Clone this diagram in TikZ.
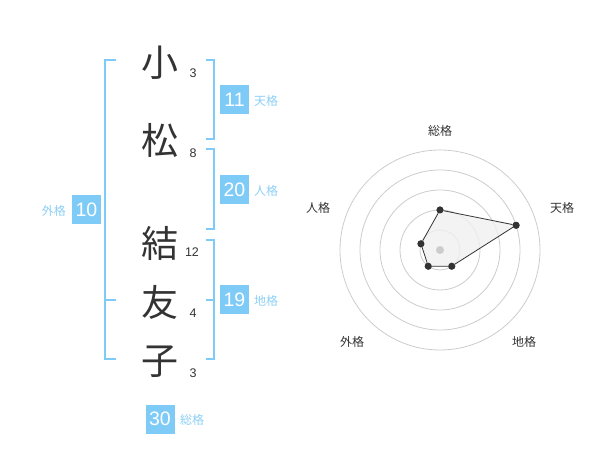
\documentclass[tikz,border=0pt]{standalone}
\usepackage{fontspec}
\setmainfont{Liberation Sans}
\newfontfamily\cjk{Noto Sans CJK JP}
\definecolor{ink}{HTML}{333333}
\definecolor{boxblue}{HTML}{7FCBF8}
\definecolor{lblblue}{HTML}{8DCFF5}
\definecolor{ringgray}{HTML}{CCCCCC}
\definecolor{polyfill}{HTML}{F0F0F0}
\begin{document}
\begin{tikzpicture}[x=1pt,y=-1pt,
  kanji/.style={font=\cjk\fontsize{37}{37}\selectfont, text=ink, inner sep=0pt},
  strokes/.style={font=\fontsize{12.5}{12.5}\selectfont, text=ink, inner sep=0pt},
  valbox/.style={fill=boxblue, text=white, font=\fontsize{19.5}{19.5}\selectfont, minimum size=29pt, inner sep=0pt},
  lbl/.style={font=\cjk\fontsize{12}{12}\selectfont, text=lblblue, inner sep=0pt},
  brk/.style={draw=boxblue, line width=2pt},
  ring/.style={draw=ringgray, line width=0.8pt},
  axislbl/.style={font=\cjk\fontsize{12}{12}\selectfont, text=ink, inner sep=0pt},
  dot/.style={circle, fill=ink, minimum size=7pt, inner sep=0pt},
  cdot/.style={circle, fill=ringgray, minimum size=8pt, inner sep=0pt}]
\useasboundingbox (0,0) rectangle (600,470);
% kanji and stroke counts
\node[kanji] (k1) at (160,63) {小};
\node[kanji] (k2) at (160,140) {松};
\node[kanji] (k3) at (160,243) {結};
\node[kanji] (k4) at (160,302) {友};
\node[kanji] (k5) at (160,362) {子};
\node[strokes] (s1) at (193,73) {3};
\node[strokes] (s2) at (193,153) {8};
\node[strokes] (s3) at (192,252) {12};
\node[strokes] (s4) at (193,313) {4};
\node[strokes] (s5) at (193,373) {3};
% brackets
\draw[brk] (116,60) -- (105,60) -- (105,359) -- (116,359);
\draw[brk] (105,300) -- (116,300);
\draw[brk] (206,60) -- (214,60) -- (214,139) -- (206,139);
\draw[brk] (206,149) -- (214,149) -- (214,229) -- (206,229);
\draw[brk] (206,240) -- (214,240) -- (214,359) -- (206,359);
\draw[brk] (206,300) -- (214,300);
% value boxes
\node[valbox] (ten) at (234.5,100) {11};
\node[valbox] (jin) at (234.5,190) {20};
\node[valbox] (chi) at (234.5,300) {19};
\node[valbox] (gai) at (86.5,210) {10};
\node[valbox] (sou) at (160,419) {30};
\node[lbl, anchor=west] (tenl) at (254,101) {天格};
\node[lbl, anchor=west] (jinl) at (254,191) {人格};
\node[lbl, anchor=west] (chil) at (254,301) {地格};
\node[lbl, anchor=east] (gail) at (66,211) {外格};
\node[lbl, anchor=west] (soul) at (180,420) {総格};
% radar chart
\coordinate (C) at (440,250);
\foreach \r in {20,40,60,80,100} \draw[ring] (C) circle[radius=\r pt];
\node[dot] (p1) at ([shift={(90:40pt)}]C) {};
\node[dot] (p2) at ([shift={(18:80pt)}]C) {};
\node[dot] (p3) at ([shift={(-54:20pt)}]C) {};
\node[dot] (p4) at ([shift={(-126:20pt)}]C) {};
\node[dot] (p5) at ([shift={(162:20pt)}]C) {};
\fill[polyfill, opacity=0.8] (p1.center) -- (p2.center) -- (p3.center) -- (p4.center) -- (p5.center) -- cycle;
\node[cdot] (cd) at (C) {};
\draw[ink, line width=0.8pt] (p1) -- (p2) -- (p3) -- (p4) -- (p5) -- (p1);
\node[dot] at (p1) {};
\node[dot] at (p2) {};
\node[dot] at (p3) {};
\node[dot] at (p4) {};
\node[dot] at (p5) {};
\node[axislbl] (a1) at (440,131) {総格};
\node[axislbl] (a2) at (562,208) {天格};
\node[axislbl] (a3) at (318,208) {人格};
\node[axislbl] (a4) at (352,342) {外格};
\node[axislbl] (a5) at (524,342) {地格};
\end{tikzpicture}
\end{document}
